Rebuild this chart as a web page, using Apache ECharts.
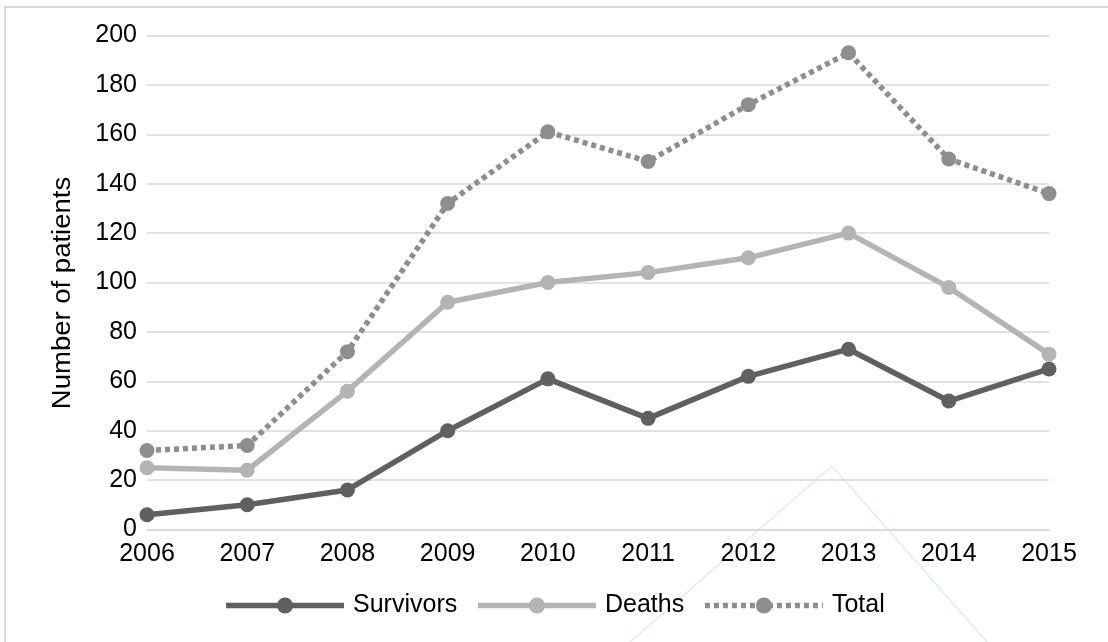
<!DOCTYPE html>
<html>
<head>
<meta charset="utf-8">
<style>
  html, body { margin: 0; padding: 0; background: #ffffff; }
  #chart { width: 1108px; height: 642px; }
</style>
<script src="https://cdn.jsdelivr.net/npm/echarts@6/dist/echarts.min.js"></script>
</head>
<body>
<div id="chart"></div>
<script>
// Patients per year
const years = ['2006', '2007', '2008', '2009', '2010', '2011', '2012', '2013', '2014', '2015'];
const survivors = [6, 10, 16, 40, 61, 45, 62, 73, 52, 65];
const deaths = [25, 24, 56, 92, 100, 104, 110, 120, 98, 71];
const total = [32, 34, 72, 132, 161, 149, 172, 193, 150, 136];
const yTicks = { min: 0, max: 200, interval: 20 };
const yTitle = 'Number of patients';

const FONT = '"Liberation Sans", Arial, Helvetica, sans-serif';
const FONT_SIZE = 25;

const COLORS = { Survivors: '#606060', Deaths: '#b4b4b4', Total: '#8e8e8e' };
const TOTAL_DASH = [5, 4];

const chart = echarts.init(document.getElementById('chart'), null, { renderer: 'canvas' });

function lineSeries(name, data, color, dash) {
  return {
    name: name,
    type: 'line',
    data: data,
    symbol: 'circle',
    symbolSize: 15,
    showSymbol: true,
    lineStyle: { color: color, width: 5.5, type: dash || 'solid', cap: 'butt' },
    itemStyle: { color: color },
    emphasis: { disabled: true },
    animation: false
  };
}

function legendItem(name, dash) {
  return {
    name: name,
    itemStyle: { color: COLORS[name] },
    lineStyle: { color: COLORS[name], width: 5.5, type: dash || 'solid', cap: 'butt' }
  };
}

chart.setOption({
  backgroundColor: '#ffffff',
  animation: false,
  textStyle: { fontFamily: FONT },
  grid: { left: 147, right: 59, top: 35.5, bottom: 112.5, containLabel: false },
  legend: {
    left: 'center',
    top: 588,
    itemWidth: 118,
    itemHeight: 20,
    itemGap: 18,
    textStyle: { fontFamily: FONT, fontSize: FONT_SIZE, color: '#000000', padding: [0, 0, 0, 4] },
    data: [legendItem('Survivors'), legendItem('Deaths'), legendItem('Total', TOTAL_DASH)]
  },
  xAxis: {
    type: 'category',
    data: years,
    boundaryGap: false,
    axisLine: { show: true, lineStyle: { color: '#d9d9d9', width: 1.5 } },
    axisTick: { show: false },
    axisLabel: { fontFamily: FONT, fontSize: FONT_SIZE, color: '#000000', margin: 12 },
    splitLine: { show: false }
  },
  yAxis: {
    type: 'value',
    min: yTicks.min,
    max: yTicks.max,
    interval: yTicks.interval,
    axisLine: { show: false },
    axisTick: { show: false },
    axisLabel: { fontFamily: FONT, fontSize: FONT_SIZE, color: '#000000', margin: 10 },
    splitLine: { show: true, lineStyle: { color: '#d9d9d9', width: 1.5 } }
  },
  graphic: [
    // outer frame (top and left edges)
    { type: 'polyline', silent: true, z: 0,
      shape: { points: [[5, 642], [5, 7], [1108, 7]] },
      style: { stroke: '#d9d9d9', lineWidth: 2, fill: null } },
    // faint background mark
    { type: 'polyline', silent: true, z: 0,
      shape: { points: [[630, 642], [832, 466], [987, 642]] },
      style: { stroke: '#dcefeb', lineWidth: 1.5, fill: null } },
    // y-axis title
    { type: 'text', silent: true, z: 10,
      x: 63, y: 293, rotation: Math.PI / 2, scaleX: 1.1,
      style: { text: yTitle, fontFamily: FONT, fontSize: FONT_SIZE, fill: '#000000',
               align: 'center', verticalAlign: 'middle' } }
  ],
  series: [
    lineSeries('Survivors', survivors, COLORS.Survivors),
    lineSeries('Deaths', deaths, COLORS.Deaths),
    lineSeries('Total', total, COLORS.Total, TOTAL_DASH)
  ]
});
</script>
</body>
</html>
